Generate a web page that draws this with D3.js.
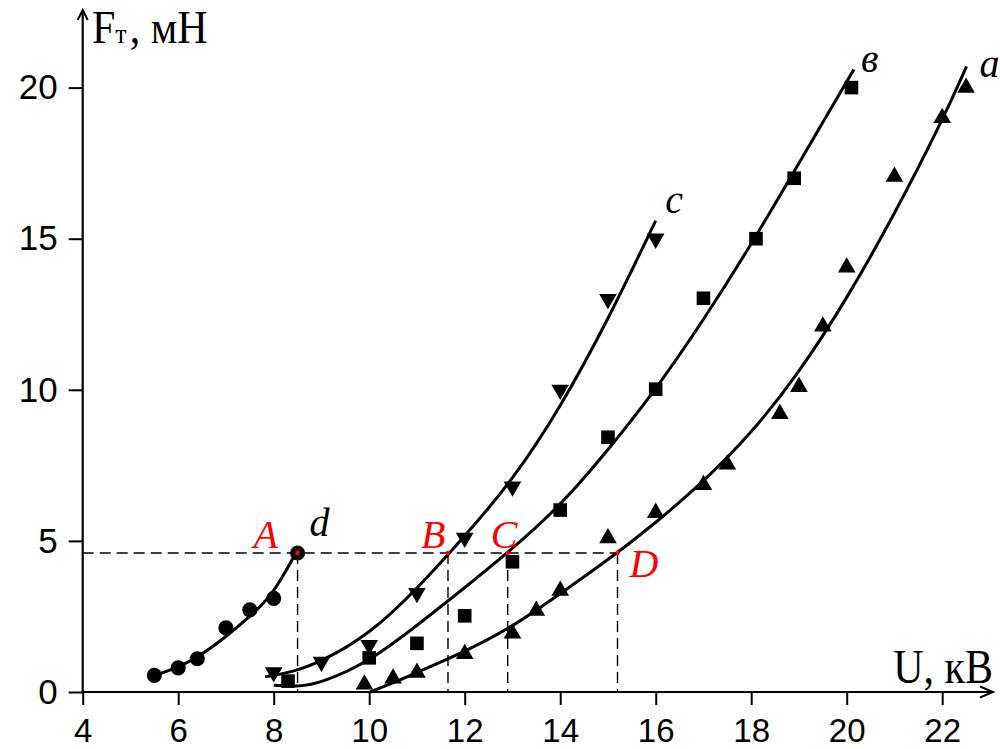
<!DOCTYPE html>
<html><head><meta charset="utf-8">
<script src="https://cdn.jsdelivr.net/npm/d3@7"></script>
<style>body{margin:0;background:#fff}svg{display:block}</style>
</head><body><svg id="chart" width="1000" height="749"></svg>
<script>
// ---- data ----
const xMajorTicks = [4, 6, 8, 10, 12, 14, 16, 18, 20, 22];
const yMajorTicks = [0, 5, 10, 15, 20];

// curve d (circles)
const dU = [5.5, 6.0, 6.4, 7.0, 7.5, 8.0, 8.5];
const dF = [0.55, 0.8, 1.1, 2.12, 2.72, 3.1, 4.6];
const dFitU = [5.48, 5.97, 6.39, 6.98, 7.47, 7.98, 8.47];
const dFitF = [0.53, 0.8, 1.12, 1.8, 2.45, 3.2, 4.62];

// curve c (down triangles)
const cU = [8, 9, 10, 11, 12, 13, 14, 15, 16];
const cF = [0.65, 1.0, 1.55, 3.27, 5.1, 6.8, 10.0, 13.0, 15.0];
const cFitU = [7.82, 8.4, 9.0, 10.0, 11.0, 12.0, 13.0, 14.0, 15.0, 16.0];
const cFitF = [0.5, 0.66, 1.0, 1.9, 3.4, 5.15, 7.0, 9.4, 12.3, 15.6];

// curve в (squares)
const bU = [8.3, 10, 11, 12, 13, 14, 15, 16, 17, 18.1, 18.9, 20.1];
const bF = [0.36, 1.13, 1.61, 2.52, 4.31, 6.02, 8.43, 10.02, 13.03, 15.0, 17.0, 20.0];
const bFitU = [8.0, 8.5, 9.0, 10.0, 11.0, 12.0, 12.9, 14.0, 15.0, 16.0, 17.0, 18.0, 19.0, 20.15];
const bFitF = [0.22, 0.17, 0.3, 1.0, 2.2, 3.45, 4.6, 6.15, 8.0, 10.0, 12.3, 14.8, 17.5, 20.6];

// curve a (up triangles)
const aU = [9.9, 10.5, 11, 12, 13, 13.5, 14, 15, 16, 17, 17.5, 18.6, 19, 19.5, 20, 21, 22, 22.5];
const aF = [0.25, 0.45, 0.64, 1.26, 1.94, 2.69, 3.35, 5.09, 5.93, 6.85, 7.53, 9.2, 10.1, 12.1, 14.05, 17.05, 19.0, 20.0];
const aFitU = [10.02, 10.5, 11.0, 12.0, 13.0, 14.0, 15.2, 16.0, 17.0, 18.0, 19.0, 20.0, 21.0, 22.0, 22.51];
const aFitF = [0.0, 0.3, 0.65, 1.33, 2.15, 3.25, 4.6, 5.6, 6.95, 8.55, 10.55, 13.0, 15.8, 18.9, 20.7];

// reference level and crossing points
const refF = 4.6;
const refNames = ["A", "B", "C", "D"];
const refU = [8.5, 11.65, 12.9, 15.2];

// curve labels
const curveNames = ["d", "c", "в", "a"];
const curveLabelU = [8.75, 16.2, 20.3, 22.78];
const curveLabelF = [5.15, 15.85, 20.5, 20.35];

// ---- drawing ----
const svg = d3.select("#chart");
svg.append("rect").attr("width", 1000).attr("height", 749).attr("fill", "#fff");

const x = d3.scaleLinear().domain([4, 22]).range([82.7, 942.2]);
const y = d3.scaleLinear().domain([0, 20]).range([692, 87.6]);

const sans = "'Liberation Sans', Arial, sans-serif";
const serif = "'Liberation Serif', 'Times New Roman', serif";

// axes
const gx = svg.append("g").attr("transform", `translate(0,${y(0)})`);
gx.call(d3.axisBottom(x).tickValues(d3.range(4, 22.9, 0.4)).tickFormat("").tickSize(8).tickSizeOuter(0));
gx.call(d3.axisBottom(x).tickValues(xMajorTicks).tickSize(13).tickPadding(14).tickSizeOuter(0));
gx.selectAll(".domain").remove();
gx.selectAll("line").attr("stroke", "#000").attr("stroke-width", 2);
gx.selectAll("text").attr("font-family", sans).attr("font-size", 33).attr("fill", "#000")
  .attr("dy", "0.71em");

const gy = svg.append("g").attr("transform", `translate(${x(4)},0)`);
gy.call(d3.axisLeft(y).tickValues(d3.range(0, 22.5, 1)).tickFormat("").tickSize(7).tickSizeOuter(0));
gy.call(d3.axisLeft(y).tickValues(yMajorTicks).tickSize(14).tickPadding(11).tickSizeOuter(0));
gy.selectAll(".domain").remove();
gy.selectAll("line").attr("stroke", "#000").attr("stroke-width", 2);
gy.selectAll("text").attr("font-family", sans).attr("font-size", 35).attr("fill", "#000");

// axis lines with open arrows
const xEnd = 993, yTop = 10;
svg.append("line").attr("x1", x(4)).attr("y1", y(0)).attr("x2", xEnd).attr("y2", y(0))
  .attr("stroke", "#000").attr("stroke-width", 2.2);
svg.append("path").attr("d", `M${xEnd-13},${y(0)-5.5}L${xEnd},${y(0)}L${xEnd-13},${y(0)+5.5}`)
  .attr("fill", "none").attr("stroke", "#000").attr("stroke-width", 2);
svg.append("line").attr("x1", x(4)).attr("y1", y(0)).attr("x2", x(4)).attr("y2", yTop)
  .attr("stroke", "#000").attr("stroke-width", 2.2);
svg.append("path").attr("d", `M${x(4)-5},${yTop+10}L${x(4)},${yTop}L${x(4)+5},${yTop+10}`)
  .attr("fill", "none").attr("stroke", "#000").attr("stroke-width", 2);

// axis titles
const yt = svg.append("text").attr("transform", "translate(92,43) scale(1,1.08)")
  .attr("font-family", serif).attr("font-size", 42).attr("fill", "#000");
yt.append("tspan").text("F");
yt.append("tspan").attr("font-size", 26).text("т");
yt.append("tspan").attr("dx", 3).text(", мН");

svg.append("text").attr("transform", "translate(993,683) scale(1,1.16)").attr("text-anchor", "end")
  .attr("font-family", serif).attr("font-size", 42).attr("fill", "#000").text("U, кВ");

// dashed reference lines
const dash = svg.append("g").attr("stroke", "#000").attr("stroke-width", 1.4).attr("stroke-dasharray", "11,6").attr("fill", "none");
dash.append("line").attr("x1", x(4)).attr("x2", x(d3.max(refU))).attr("y1", y(refF)).attr("y2", y(refF));
refU.forEach(u => {
  dash.append("line").attr("x1", x(u)).attr("x2", x(u)).attr("y1", y(refF)).attr("y2", y(0));
});

// fitted curves
const line = d3.line().x(d => x(d[0])).y(d => y(d[1])).curve(d3.curveBasis);
[[dFitU, dFitF], [cFitU, cFitF], [bFitU, bFitF], [aFitU, aFitF]].forEach(([us, fs]) => {
  svg.append("path").attr("d", line(d3.zip(us, fs)))
    .attr("fill", "none").attr("stroke", "#000").attr("stroke-width", 3);
});

// markers
function markers(us, fs, type, size, rot) {
  svg.append("g").selectAll("path").data(d3.zip(us, fs)).join("path")
    .attr("d", d3.symbol().type(type).size(size)())
    .attr("transform", d => `translate(${x(d[0])},${y(d[1])}) rotate(${rot})`)
    .attr("fill", "#000");
}
markers(dU, dF, d3.symbolCircle, 180, 0);
markers(cU, cF, d3.symbolTriangle, 135, 180);
markers(bU, bF, d3.symbolSquare, 185, 0);
markers(aU, aF, d3.symbolTriangle, 135, 0);

// red crossing points and labels
refU.forEach((u, i) => {
  svg.append("circle").attr("cx", x(u)).attr("cy", y(refF)).attr("r", 2.2).attr("fill", "#ff0000");
});
const refLabelDx = [-44, -27, -17, 12];
const refLabelY = [548, 548, 548, 577];
refNames.forEach((n, i) => {
  svg.append("text").attr("x", x(refU[i]) + refLabelDx[i]).attr("y", refLabelY[i])
    .attr("font-family", serif).attr("font-style", "italic").attr("font-size", 40)
    .attr("fill", "#ff0000").text(n);
});

// curve names
curveNames.forEach((n, i) => {
  svg.append("text").attr("x", x(curveLabelU[i])).attr("y", y(curveLabelF[i]))
    .attr("font-family", serif).attr("font-style", "italic").attr("font-size", 40)
    .attr("fill", "#000").text(n);
});
</script></body></html>
